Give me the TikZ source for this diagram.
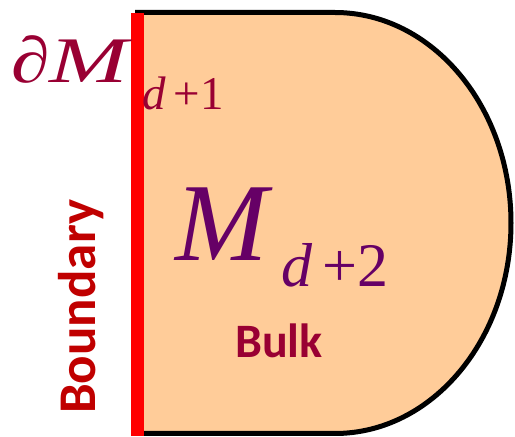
\documentclass[tikz,border=0pt]{standalone}
\usepackage{graphicx}
\usepackage{fontspec}
\setmainfont{Liberation Serif}
\newfontfamily\calib{Carlito}
\definecolor{peach}{HTML}{FFCC99}
\definecolor{crimson}{HTML}{990033}
\definecolor{plum}{HTML}{660066}
\definecolor{bdred}{HTML}{C00000}
\tikzset{
  lbl/.style={inner sep=0pt, anchor=base west}
}
\begin{document}
\begin{tikzpicture}[x=1pt,y=1pt]
\useasboundingbox (0,0) rectangle (515,437);
\draw[line width=5pt, fill=peach] (135,424.5) -- (335,424.5)
  arc[start angle=90, end angle=-90, x radius=176, y radius=210.5] -- (135,3.5);
\draw[red, line width=13pt] (137.5,1) -- (137.5,424);
\node[lbl, text=crimson, font=\itshape\fontsize{65}{70}\selectfont] (dM) at (11,354) {\scalebox{1.2}[1]{∂}\scalebox{1.45}[1]{M}};
\node[lbl, text=crimson, font=\fontsize{47}{52}\selectfont] (s1) at (142,327) {\textit{d}\,+1};
\node[lbl, text=plum, font=\itshape\fontsize{111}{118}\selectfont] (M) at (175,176) {M};
\node[lbl, text=plum, font=\fontsize{62}{68}\selectfont] (s2) at (281,150) {\textit{d}\,+2};
\node[lbl, text=crimson, font=\calib\bfseries\fontsize{48}{52}\selectfont] (bulk) at (235,79) {Bulk};
\node[lbl, text=bdred, font=\calib\bfseries\fontsize{53}{58}\selectfont, rotate=90] (bd) at (96,23) {Boundary};
\end{tikzpicture}
\end{document}
